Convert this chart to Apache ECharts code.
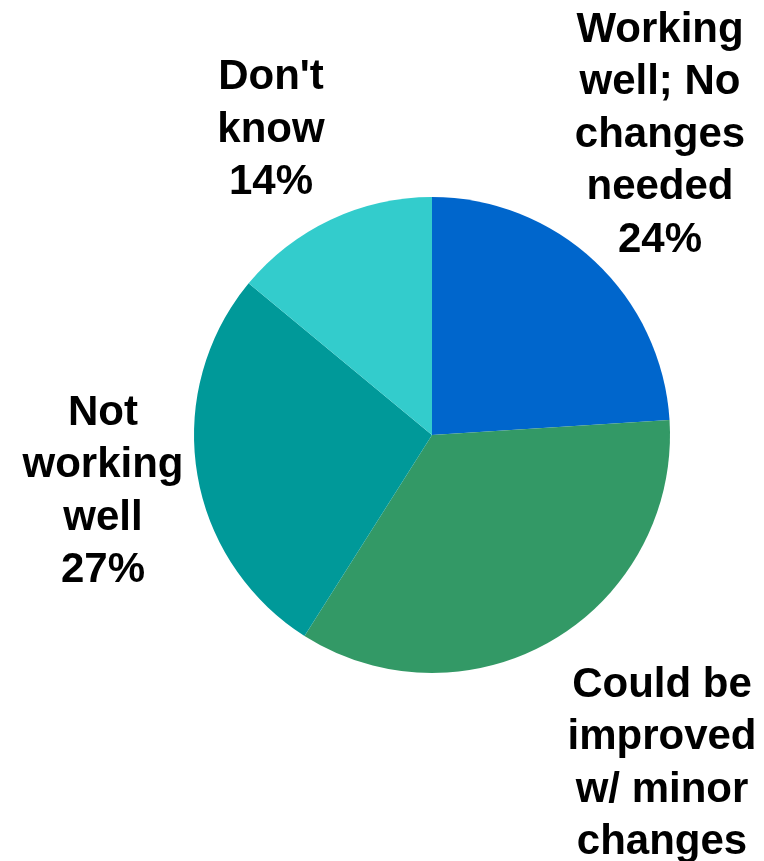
<!DOCTYPE html>
<html>
<head>
<meta charset="utf-8">
<script src="https://cdn.jsdelivr.net/npm/echarts@6/dist/echarts.min.js"></script>
<style>
  html, body { margin: 0; padding: 0; background: #fff; }
  #pie-chart { width: 764px; height: 861px; }
</style>
</head>
<body>
<div id="pie-chart"></div>
<script>
const categories = [
  'Working\nwell; No\nchanges\nneeded',
  'Could be\nimproved\nw/ minor\nchanges',
  'Not\nworking\nwell',
  "Don't\nknow"
];
const percents = [24, 35, 27, 14];
const colors = ['#0066CC', '#339966', '#009999', '#33CCCC'];

// label anchor points (centre of each text block)
const labelSpots = [[660, 135], [662, 790], [103, 492], [271, 130]];

const chart = echarts.init(document.getElementById('pie-chart'));
chart.setOption({
  animation: false,
  series: [
    {
      type: 'pie',
      center: [432, 435],
      radius: 238,
      startAngle: 90,
      clockwise: true,
      data: categories.map((name, i) => ({
        name: name,
        value: percents[i],
        itemStyle: { color: colors[i] }
      })),
      itemStyle: { borderWidth: 0 },
      label: {
        show: true,
        position: 'outside',
        formatter: p => p.name + '\n' + p.value + '%',
        color: '#000',
        fontFamily: 'Liberation Sans, Arial, sans-serif',
        fontWeight: 'bold',
        fontSize: 42,
        lineHeight: 52.5,
        align: 'center',
        overflow: 'none'
      },
      labelLine: { show: false },
      labelLayout: p => ({
        x: labelSpots[p.dataIndex][0],
        y: labelSpots[p.dataIndex][1],
        align: 'center',
        verticalAlign: 'middle'
      }),
      emphasis: { disabled: true }
    }
  ]
});
</script>
</body>
</html>
